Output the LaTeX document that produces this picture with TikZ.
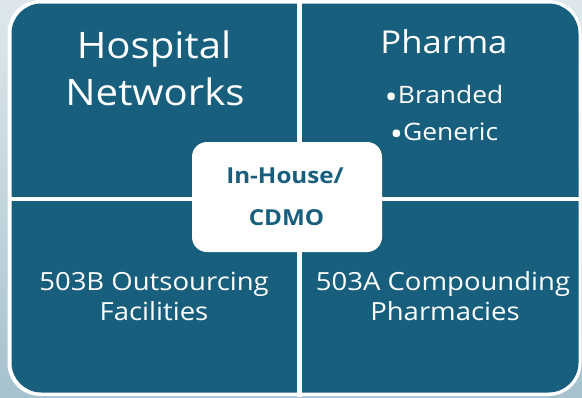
\documentclass[tikz,border=0pt]{standalone}
\usepackage{fontspec}
\setmainfont{Open Sans}[Ligatures=NoCommon,FakeStretch=1.1]
\definecolor{quad}{RGB}{24,95,126}
\definecolor{bgtop}{RGB}{222,232,236}
\definecolor{bgbot}{RGB}{166,194,206}
\newcommand{\bigbul}{{\fontsize{32}{32}\selectfont\raisebox{-5.5pt}{•}}}
\begin{document}
\begin{tikzpicture}[x=1pt,y=-1pt,
  bigtxt/.style={text=white,inner sep=0pt,anchor=base,font=\fontsize{36.5}{40}\selectfont},
  medtxt/.style={text=white,inner sep=0pt,anchor=base,font=\fontsize{31.5}{38}\selectfont},
  smalltxt/.style={text=white,inner sep=0pt,anchor=base,font=\fontsize{24}{26}\selectfont},
  lowtxt/.style={text=white,inner sep=0pt,anchor=base,font=\fontsize{25}{30}\selectfont},
  centtxt/.style={text=quad,inner sep=0pt,anchor=base,font=\fontsize{22}{25}\selectfont\bfseries},
  gap/.style={fill=white,draw=none}]
\useasboundingbox (0,0) rectangle (582,397);
\shade[top color=bgtop,bottom color=bgbot] (0,0) rectangle (582,397);
% outer white frame
\fill[white,rounded corners=33pt] (7.5,0) rectangle (581.5,396);
% dark quadrants
\fill[quad,rounded corners=30pt] (11.5,3.5) rectangle (578.5,392.5);
% gaps
\fill[gap] (297.3,0) rectangle (301.7,397);
\fill[gap] (8,196.7) rectangle (581,201);
% center box
\node[fill=white,rounded corners=15pt,minimum width=190pt,minimum height=110pt,inner sep=0pt] (center) at (287,197) {};
% texts
\node[bigtxt] (hosp) at (154,58) {Hospital};
\node[bigtxt] (netw) at (155,105) {Networks};
\node[medtxt] (pharma) at (444,53) {Pharma};
\node[smalltxt] (brand) at (444,103) {\bigbul Branded};
\node[smalltxt] (gener) at (444,140) {\bigbul Generic};
\node[lowtxt] (outs) at (154,290) {503B Outsourcing};
\node[lowtxt] (facil) at (154,320) {Facilities};
\node[lowtxt] (comp) at (443,290) {503A Compounding};
\node[lowtxt] (pharmac) at (445,320) {Pharmacies};
\node[centtxt] (inhouse) at (285,183) {In-House/};
\node[centtxt] (cdmo) at (286.5,225) {CDMO};
\end{tikzpicture}
\end{document}
